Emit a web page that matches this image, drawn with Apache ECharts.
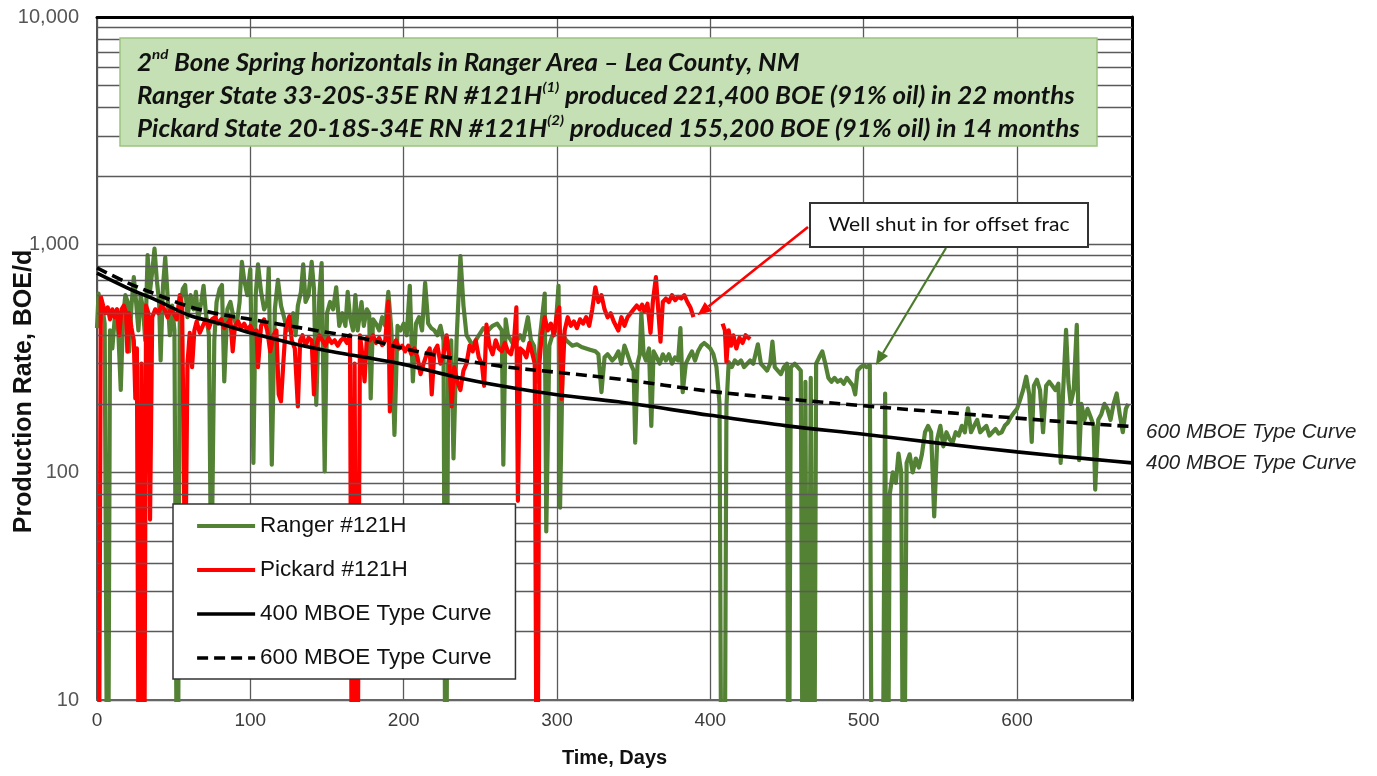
<!DOCTYPE html>
<html>
<head>
<meta charset="utf-8">
<script src="https://cdn.jsdelivr.net/npm/echarts@6/dist/echarts.min.js"></script>
<style>
  html, body { margin: 0; padding: 0; background: #ffffff; }
  #chart { width: 1377px; height: 776px; }
</style>
</head>
<body>
<div id="chart"></div>
<script>
// ---- Data (day, BOE/d). A rate of 1 marks a day with no production (below the axis floor).
const rangerRate = [
  [0,430],[1,610],[2,520],[3,560],[5,450],[7,1],[8.5,420],[10,350],[11.5,470],[13,520],[14,400],[15.5,230],[17,480],[18.5,600],[20,560],[21,340],[22.5,540],[24,720],[25.5,560],[27,420],[28.5,600],[30,520],[31.5,380],[33,900],[34.5,620],[36,760],[37.5,960],[39,700],[40.5,560],[41.5,310],[43,650],[44.5,880],[46,600],[47.5,400],[49,540],[50.5,420],[52.5,1],[54,520],[56,640],[57.5,665],[59,480],[61,600],[63,520],[64.5,620],[66,470],[68,560],[69.5,660],[71,500],[73,400],[74.5,28],[76.5,380],[78,560],[80,640],[81.5,665],[83,251],[85,520],[87,560],[89,480],[91,440],[93,560],[94.5,840],[96,700],[98,600],[100,780],[102,110],[103.5,600],[105,820],[107,620],[109,520],[111,560],[112,790],[114,108],[116,520],[118,700],[120,540],[122,480],[124,420],[126,450],[128,500],[129.5,400],[131,540],[133,620],[134.5,820],[136,560],[138,600],[140,840],[141.5,640],[143,198],[145,600],[146.5,830],[148.5,101],[150,500],[152,560],[154,520],[156,650],[158,440],[160,500],[162,440],[163.5,620],[165,480],[167,420],
  [168.5,600],[170,420],[172.5,560],[174,440],[176,520],[177.5,500],[178.5,211],[180,470],[182,450],[184,420],[186,480],[188,440],[190,620],[192,420],[194,146],[196,440],[198,420],[200,450],[202,400],[204,660],[206,251],[208,450],[210,480],[212,420],[214,680],[216,450],[218,430],[220,420],[222,400],[224,440],[226,380],[227.5,1],[229,300],[231,380],[232.5,115],[234.5,380],[237,890],[239,540],[241,400],[243,380],[245,360],[247,380],[249,400],[252,430],[255,420],[258,440],[261,450],[263,430],[264,420],[265,108],[266.5,470],[268,400],[270,380],[272,360],[274,380],[276,400],[278,380],[281,480],[283,380],[285,360],[287,250],[289,400],[292,610],[293,55],[295,360],[297,400],[299,420],[301,660],[302,70],[304,400],[306,380],[308,370],[310,360],[313,365],[316,355],[319,350],[322,345],[325,340],[327,330],[329,225],[331,320],[333,330],[336,310],
  [338,320],[340,340],[342,300],[344,360],[346,330],[348,300],[350,280],[351,135],[352.5,300],[354,330],[355,500],[356.5,330],[358,310],[360,350],[361.5,160],[363,340],[365,320],[367,300],[369,330],[371,310],[373,330],[375,300],[377,320],[379,310],[380.5,430],[382,225],[384,300],[386,320],[388,340],[390,310],[392,340],[394,360],[396,370],[398,360],[400,350],[402,330],[404,290],[406,200],[407.5,1],[409,1],[410.5,195],[412,305],[414,290],[416,310],[418,300],[420,310],[422,290],[424,300],[426,310],[428,300],[431,365],[433,300],[435,290],[437,280],[439,300],[440.5,375],[442,290],[444,280],[446,270],[448,290],[450,300],[451,1],[452.5,290],[455,300],[457,290],[459,280],[460.5,1],[462,250],[463.5,1],[465.5,260],[467.5,1],[469,300],[471,320],[473,340],[475,300],[477,260],[479,250],[481,260],[483,250],[485,255],[487,245],[489,260],[491,250],[493,240],[494.5,220],[496,280],[498,290],[500,295],[502,290],[504,296],[505.5,1],[512,1],[514,222],[515.5,1],
  [517,80],[519,100],[521,90],[522.7,121],[524.5,100],[526,1],[528,110],[530,120],[532,100],[534,115],[536,105],[538,120],[540,150],[542,160],[544,150],[546,64],[548,140],[550,160],[552,130],[554,150],[556,140],[558,135],[560,150],[562,145],[564,160],[566,150],[568,191],[570,150],[572,160],[574,170],[576,150],[578,155],[580,160],[582,145],[584,150],[586,155],[588,148],[590,150],[592,160],[594,165],[596,175],[598,183],[600,190],[602,208],[604,230],[606,263],[608,220],[609.6,136],[611,240],[613,255],[615,230],[617,150],[619,240],[621,250],[623,240],[625,230],[627,245],[628.5,110],[630,220],[632,422],[633.5,250],[635,200],[637,230],[639,444],[640.5,113],[642,200],[644,170],[646,190],[648,175],[650,160],[651,84],[653,170],[655,180],[657,200],[659,190],[661,170],[663,200],[665,222],[667,180],[669,150],[671,190],[672.5,200]
];

const pickardRate = [
  [1,1],[2.5,590],[4,540],[5.5,500],[7,530],[8.5,470],[10,520],[11.5,480],[13,520],[14.5,400],[16,520],[17.5,540],[19,500],[19.8,339],[21,500],[22.5,430],[24,380],[25,211],[26,350],[27.5,1],[29,300],[30.5,1],[32,540],[33.5,500],[34.6,62],[36,480],[38,520],[40,500],[42,540],[44,520],[46,480],[48,520],[50,500],[52,470],[54,600],[55.5,540],[57.5,30],[59,300],[60.5,410],[62,290],[63.5,420],[65,460],[67,410],[69,440],[71,470],[73,430],[75,470],[77,480],[79,450],[81,470],[83,430],[85,450],[87,470],[88.5,340],[90,440],[92,460],[94,430],[96,450],[98,420],[100,440],[102,410],[104,420],[105,290],[107,440],[109,470],[111,420],[113,340],[115,400],[117,420],[118.5,220],[120,205],[121.5,300],[123,430],[125.5,485],[127,380],[129,350],[131,195],[132.5,380],[134,400],[136,360],[138,390],[140,380],[141.5,220],[143,360],[145,400],[147,380],[149,360],[151,390],[153,370],[155,380],[157,360],[159,380],[161,390],[163,370],[165,400],[166.5,1],[168,300],[169.5,1],
  [171.5,400],[173,330],[174.5,251],[176,390],[178,380],[180,400],[182,370],[184,390],[186,362],[188,380],[190,562],[191,185],[193,360],[195,380],[197,350],[199,360],[201,340],[203,360],[205,330],[207,350],[209,320],[211,270],[213,300],[215,330],[217,350],[218.3,220],[220,340],[222,360],[224,300],[226,330],[228,400],[229.5,330],[231.3,195],[233,290],[235,250],[237,230],[239,280],[241,300],[243,360],[245,340],[247,380],[249,320],[251,300],[252.5,240],[254,445],[256,360],[258,330],[260,380],[262,350],[264,340],[266,370],[268,340],[270,330],[272,380],[273.5,530],[274.5,75],[276,350],[278,340],[280,320],[282,370],[284,330],[285.5,300],[287,1],[288.5,300],[290,400],[292,480],[294,420],[296,450],[298,400],[300,500],[301.5,530],[303,210],[305,420],[307,480],[309,440],[311,460],[313,430],[315,470],[317,450],[319,480],[321,440],[323,520],[325,650],[327,560],[329,600],[331,520],[333,480],[335,500],[337,460],
  [340,420],[342,480],[344,440],[346,480],[348,500],[350,520],[352,540],[354,520],[355.5,545],[357,510],[359,550],[361,410],[362.5,560],[364.5,720],[366,520],[367.5,375],[369,560],[371,580],[373,560],[375,600],[377,570],[379,590],[381,580],[383,600],[385,560],[387,530],[389,480],
  [390,'-'],
  [408,450],[409.5,420],[410.5,305],[412,420],[413.5,360],[415,400],[417,350],[419,390],[421,370],[423,400],[426,385]
];

// Type curves, read at selected days
const typeCurveDays = [0,20,40,60,80,100,125,150,175,200,233,266,300,340,400,450,500,550,600,650,675];
const curve400 = [750,645,565,490,450,410,372,342,320,298,263,238,219,204,178,160,147,134,123,114,110];
const curve600 = [790,680,600,535,495,470,440,412,385,350,316,291,275,257,227,210,196,184,173,163,159];

// Axis ticks and log grid levels
const dayTicks = [0,100,200,300,400,500,600];
const rateTicks = [10,100,1000,10000];
const minorRateLevels = [20,30,40,50,60,70,80,90,200,300,400,500,600,700,800,900,2000,3000,4000,5000,6000,7000,8000,9000];

const titleLines = [
  '{t|2}{sup|nd}{t| Bone Spring horizontals in Ranger Area \u2013 Lea County, NM}',
  '{t|Ranger State 33-20S-35E RN #121H}{sup|(1)}{t| produced 221,400 BOE (91% oil) in 22 months}',
  '{t|Pickard State 20-18S-34E RN #121H}{sup|(2)}{t| produced 155,200 BOE (91% oil) in 14 months}'
];
const shutInNote = 'Well shut in for offset frac';

const GREEN = '#548235';
const RED = '#ff0000';
const GRID = '#5a5a5a';

const chart = echarts.init(document.getElementById('chart'), null, { renderer: 'canvas' });

const curvePoints = vals => typeCurveDays.map((d, i) => [d, vals[i]]);

const option = {
  animation: false,
  backgroundColor: '#ffffff',
  grid: { left: 97, right: 245, top: 17, bottom: 76, containLabel: false, outerBoundsMode: 'none' },
  xAxis: [
    {
      type: 'value', min: 0, max: 675, interval: 100, position: 'bottom',
      name: 'Time, Days', nameLocation: 'middle', nameGap: 48, nameMoveOverlap: false,
      nameTextStyle: { fontFamily: 'Liberation Sans', fontWeight: 'bold', fontSize: 20, color: '#111' },
      axisLine: { show: true, onZero: false, lineStyle: { color: '#666', width: 2 } },
      axisTick: { show: false },
      axisLabel: {
        margin: 11, fontFamily: 'Liberation Sans', fontSize: 19, color: '#3c3c3c',
        showMaxLabel: false,
        formatter: v => (dayTicks.indexOf(v) >= 0 ? String(v) : '')
      },
      splitLine: { show: true, lineStyle: { color: GRID, width: 1.3 } }
    },
    {
      type: 'value', min: 0, max: 675, position: 'top',
      axisLine: { show: true, onZero: false, lineStyle: { color: '#000', width: 3 } },
      axisTick: { show: false }, axisLabel: { show: false }, splitLine: { show: false }
    }
  ],
  yAxis: [
    {
      type: 'log', logBase: 10, min: 10, max: 10000, position: 'left',
      name: 'Production Rate, BOE/d', nameLocation: 'middle', nameGap: 60, nameMoveOverlap: false,
      nameTextStyle: {
        fontFamily: 'Liberation Sans', fontWeight: 'bold', fontSize: 25, color: '#111',
        padding: [0, 66, 0, 0]
      },
      axisLine: { show: true, onZero: false, lineStyle: { color: '#555', width: 2 } },
      axisTick: { show: false },
      axisLabel: {
        margin: 18, fontFamily: 'Liberation Sans', fontSize: 20, color: '#555',
        formatter: v => {
          const r = Math.round(v);
          return rateTicks.indexOf(r) >= 0 ? r.toLocaleString('en-US') : '';
        }
      },
      splitLine: { show: true, lineStyle: { color: GRID, width: 1.3 } }
    },
    {
      type: 'log', logBase: 10, min: 10, max: 10000, position: 'right',
      axisLine: { show: true, onZero: false, lineStyle: { color: '#000', width: 3 } },
      axisTick: { show: false }, axisLabel: { show: false }, splitLine: { show: false }
    }
  ],
  legend: {
    data: ['Ranger #121H', 'Pickard #121H', '400 MBOE Type Curve', '600 MBOE Type Curve'],
    orient: 'vertical', left: 173, top: 504, z: 20,
    backgroundColor: '#ffffff', borderColor: '#333', borderWidth: 1.5, borderRadius: 0,
    padding: [10, 24, 9, 22], itemWidth: 58, itemHeight: 14, itemGap: 20,
    selectedMode: false,
    itemStyle: { opacity: 0, borderWidth: 0 },
    lineStyle: { width: 'inherit' },
    textStyle: { fontFamily: 'Liberation Sans', fontSize: 22.5, color: '#111', lineHeight: 24 }
  },
  series: [
    {
      name: 'log grid', type: 'line', data: [], z: 1, silent: true,
      markLine: {
        silent: true, symbol: ['none', 'none'], animation: false,
        label: { show: false },
        lineStyle: { color: GRID, width: 1.3, type: 'solid' },
        emphasis: { disabled: true },
        data: minorRateLevels.map(v => ({ yAxis: v }))
      }
    },
    {
      name: 'Ranger #121H', type: 'line', data: rangerRate, z: 3,
      symbol: 'none', showSymbol: false, connectNulls: false,
      lineStyle: { color: GREEN, width: 4.2, join: 'round' }, itemStyle: { color: GREEN }
    },
    {
      name: 'Pickard #121H', type: 'line', data: pickardRate, z: 4,
      symbol: 'none', showSymbol: false, connectNulls: false,
      lineStyle: { color: RED, width: 4.2, join: 'round' }, itemStyle: { color: RED }
    },
    {
      name: '400 MBOE Type Curve', type: 'line', data: curvePoints(curve400), z: 5,
      smooth: 0.35, symbol: 'none', showSymbol: false,
      lineStyle: { color: '#000', width: 3.6 }, itemStyle: { color: '#000' },
      endLabel: {
        show: true, formatter: '400 MBOE Type Curve', distance: 14, offset: [0, 0],
        fontFamily: 'Liberation Sans', fontStyle: 'italic', fontSize: 20.5, color: '#222'
      }
    },
    {
      name: '600 MBOE Type Curve', type: 'line', data: curvePoints(curve600), z: 5,
      smooth: 0.35, symbol: 'none', showSymbol: false,
      lineStyle: { color: '#000', width: 3.6, type: [11, 6] }, itemStyle: { color: '#000' },
      endLabel: {
        show: true, formatter: '600 MBOE Type Curve', distance: 14, offset: [0, 6],
        fontFamily: 'Liberation Sans', fontStyle: 'italic', fontSize: 20.5, color: '#222'
      }
    }
  ]
};

chart.setOption(option);

// Arrow from a box edge to a point on a well's trace
function arrow(from, to, color, width, head) {
  const dx = to[0] - from[0], dy = to[1] - from[1];
  const len = Math.hypot(dx, dy);
  const ux = dx / len, uy = dy / len;
  const base = [to[0] - ux * head, to[1] - uy * head];
  const px = -uy, py = ux, hw = head * 0.42;
  return [
    { type: 'line', z: 20, shape: { x1: from[0], y1: from[1], x2: base[0], y2: base[1] },
      style: { stroke: color, lineWidth: width } },
    { type: 'polygon', z: 20,
      shape: { points: [to, [base[0] + px * hw, base[1] + py * hw], [base[0] - px * hw, base[1] - py * hw]] },
      style: { fill: color } }
  ];
}

const pickardShutIn = chart.convertToPixel({ xAxisIndex: 0, yAxisIndex: 0 }, [389, 480]);
const rangerShutIn = chart.convertToPixel({ xAxisIndex: 0, yAxisIndex: 0 }, [504, 296]);

chart.setOption({
  graphic: [
    { type: 'rect', z: 10, shape: { x: 120, y: 38, width: 977, height: 108 },
      style: { fill: '#c5e0b4', stroke: '#9cc47f', lineWidth: 1.5 } },
    { type: 'text', z: 11, x: 137, y: 47, scaleX: 1.08,
      style: {
        text: titleLines.join('\n'),
        fill: '#111',
        rich: {
          t: { fontFamily: 'Lato', fontWeight: 'bold', fontStyle: 'italic', fontSize: 24, lineHeight: 33, fill: '#111' },
          sup: { fontFamily: 'Lato', fontWeight: 'bold', fontStyle: 'italic', fontSize: 14, lineHeight: 15, verticalAlign: 'top', fill: '#111' }
        }
      } },
    { type: 'rect', z: 10, shape: { x: 810, y: 203, width: 278, height: 44 },
      style: { fill: '#ffffff', stroke: '#333', lineWidth: 2 } },
    { type: 'text', z: 11, x: 949, y: 225, scaleX: 1.08,
      style: { text: shutInNote, fontFamily: 'Lato', fontSize: 19.5, fill: '#111', align: 'center', verticalAlign: 'middle' } },
    ...arrow([808, 227], [pickardShutIn[0] + 4, pickardShutIn[1] - 2], RED, 2.6, 14),
    ...arrow([946, 248], [rangerShutIn[0] + 6, rangerShutIn[1]], '#4b7a2a', 2.2, 14)
  ]
});
</script>
</body>
</html>
